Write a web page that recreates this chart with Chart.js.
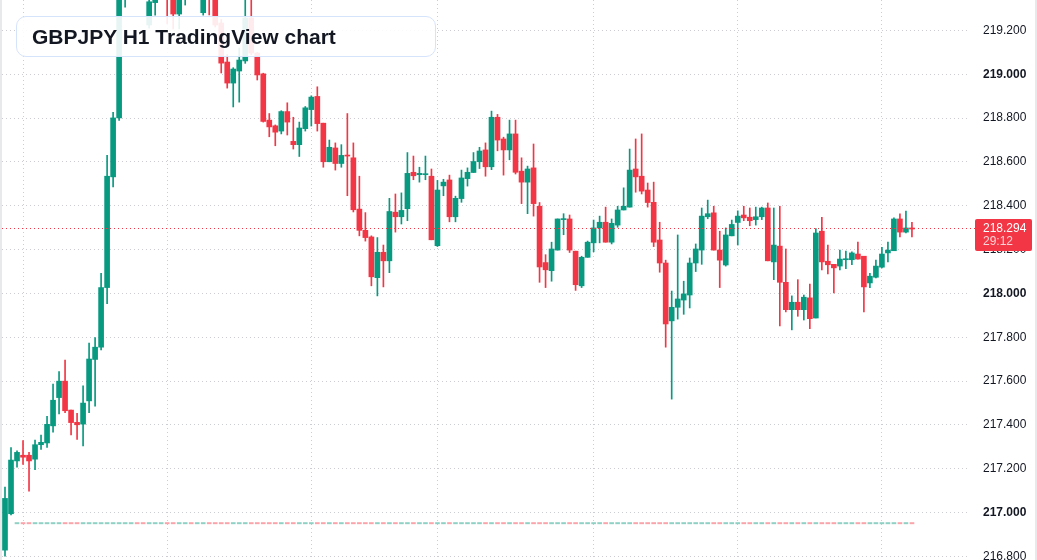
<!DOCTYPE html>
<html>
<head>
<meta charset="utf-8">
<title>GBPJPY H1 TradingView chart</title>
<script src="https://cdn.jsdelivr.net/npm/chart.js@4.4.1/dist/chart.umd.min.js"></script>
<style>
  html, body { margin: 0; padding: 0; background: #fff; }
  .wrap {
    position: relative; width: 1037px; height: 560px; box-sizing: border-box;
    border-left: 2px solid #e8e9eb; border-right: 2px solid #e8e9eb; overflow: hidden;
  }
  .wrap canvas { display: block; }
  .title {
    position: absolute; left: 14px; top: 16px; width: 420px; height: 41px; box-sizing: border-box;
    border: 1.5px solid #d5e3fb; border-radius: 10px; background: rgba(255, 255, 255, 0.9);
    font: bold 21px "Liberation Sans", Arial, sans-serif; color: #131722;
    padding-left: 15px; line-height: 39px; white-space: nowrap;
  }
</style>
</head>
<body>
<div class="wrap">
  <canvas id="chart" width="1033" height="560"></canvas>
  <div class="title">GBPJPY H1 TradingView chart</div>
</div>
<script>
/* ── GBPJPY H1 candles (oldest → newest) ── */
const opens = [
  216.829, 216.995, 217.236, 217.262, 217.262, 217.244, 217.310, 217.318, 217.396, 217.525,
  217.600, 217.468, 217.412, 217.404, 217.510, 217.699, 217.755, 218.027, 218.532, 218.801,
  219.380, 219.460, 219.550, 219.500, 219.225, 219.327, 219.390, 219.440, 219.360, 219.275,
  219.370, 219.430, 219.390, 219.281, 219.420, 219.370, 219.234, 219.056, 218.960, 219.015,
  219.061, 219.257, 219.097, 219.002, 218.791, 218.765, 218.741, 218.830, 218.694, 218.679,
  218.752, 218.839, 218.899, 218.777, 218.601, 218.664, 218.593, 218.630, 218.619, 218.385,
  218.288, 218.258, 218.072, 218.188, 218.149, 218.371, 218.350, 218.387, 218.553, 218.542,
  218.542, 218.535, 218.218, 218.491, 218.518, 218.350, 218.433, 218.524, 218.552, 218.601,
  218.655, 218.578, 218.804, 218.705, 218.655, 218.728, 218.558, 218.508, 218.573, 218.398,
  218.141, 218.104, 218.198, 218.337, 218.340, 218.193, 218.035, 218.165, 218.231, 218.299,
  218.325, 218.234, 218.312, 218.381, 218.394, 218.568, 218.535, 218.472, 218.416, 218.244,
  218.139, 217.875, 217.937, 217.970, 217.993, 218.139, 218.198, 218.350, 218.368, 218.198,
  218.130, 218.263, 218.324, 218.358, 218.348, 218.337, 218.350, 218.390, 218.144, 218.216,
  218.051, 217.926, 217.960, 217.926, 217.980, 217.888, 218.284, 218.147, 218.133, 218.125,
  218.154, 218.154, 218.180, 218.170, 218.048, 218.074, 218.120, 218.185, 218.195, 218.340,
  218.280, 218.299
];
const highs = [
  217.117, 217.297, 217.282, 217.329, 217.275, 217.331, 217.354, 217.440, 217.587, 217.644,
  217.696, 217.468, 217.453, 217.579, 217.774, 217.799, 218.092, 218.630, 218.826, 219.460,
  219.520, 219.600, 219.630, 219.560, 219.370, 219.430, 219.480, 219.470, 219.400, 219.410,
  219.460, 219.460, 219.450, 219.420, 219.450, 219.400, 219.250, 219.090, 219.030, 219.120,
  219.360, 219.360, 219.100, 219.005, 218.821, 218.769, 218.834, 218.870, 218.804, 218.782,
  218.853, 218.902, 218.943, 218.777, 218.700, 218.687, 218.679, 218.821, 218.687, 218.535,
  218.369, 218.263, 218.255, 218.221, 218.434, 218.454, 218.459, 218.643, 218.627, 218.576,
  218.627, 218.568, 218.516, 218.521, 218.540, 218.444, 218.563, 218.573, 218.643, 218.667,
  218.687, 218.832, 218.817, 218.713, 218.791, 218.791, 218.619, 218.581, 218.682, 218.415,
  218.177, 218.234, 218.340, 218.364, 218.358, 218.193, 218.170, 218.239, 218.335, 218.353,
  218.394, 218.340, 218.398, 218.482, 218.659, 218.705, 218.728, 218.504, 218.508, 218.325,
  218.152, 218.011, 218.267, 218.056, 218.162, 218.226, 218.390, 218.426, 218.398, 218.284,
  218.299, 218.335, 218.377, 218.398, 218.390, 218.394, 218.394, 218.413, 218.390, 218.398,
  218.203, 217.989, 218.063, 217.993, 218.043, 218.296, 218.348, 218.221, 218.133, 218.198,
  218.193, 218.190, 218.234, 218.170, 218.092, 218.152, 218.211, 218.234, 218.345, 218.363,
  218.376, 218.325
];
const lows = [
  216.801, 216.990, 217.207, 217.220, 217.098, 217.196, 217.289, 217.298, 217.367, 217.451,
  217.456, 217.355, 217.334, 217.305, 217.456, 217.486, 217.742, 217.954, 218.486, 218.790,
  219.306, 219.420, 219.460, 219.400, 219.210, 219.270, 219.350, 219.230, 219.207, 219.207,
  219.316, 219.360, 219.360, 219.270, 219.271, 219.216, 219.006, 218.937, 218.851, 218.873,
  219.050, 219.090, 218.974, 218.782, 218.715, 218.674, 218.728, 218.723, 218.659, 218.625,
  218.741, 218.764, 218.741, 218.576, 218.601, 218.563, 218.576, 218.446, 218.372, 218.263,
  218.239, 218.035, 217.989, 218.030, 218.095, 218.280, 218.317, 218.332, 218.519, 218.508,
  218.519, 218.245, 218.214, 218.446, 218.327, 218.327, 218.416, 218.490, 218.552, 218.570,
  218.535, 218.565, 218.651, 218.540, 218.610, 218.545, 218.410, 218.364, 218.353, 218.051,
  218.027, 218.056, 218.198, 218.268, 218.187, 218.014, 218.027, 218.165, 218.190, 218.231,
  218.234, 218.226, 218.302, 218.381, 218.394, 218.462, 218.454, 218.394, 218.214, 218.097,
  217.755, 217.518, 217.883, 217.905, 217.934, 218.100, 218.133, 218.341, 218.198, 218.027,
  218.125, 218.263, 218.221, 218.332, 218.309, 218.312, 218.337, 218.149, 218.063, 217.852,
  217.916, 217.834, 217.896, 217.879, 217.839, 217.888, 218.108, 218.089, 218.002, 218.108,
  218.113, 218.131, 218.157, 217.916, 218.027, 218.071, 218.117, 218.144, 218.195, 218.258,
  218.276, 218.258
];
const closes = [
  217.065, 217.240, 217.275, 217.253, 217.236, 217.310, 217.321, 217.403, 217.513, 217.600,
  217.465, 217.411, 217.401, 217.500, 217.701, 217.755, 218.027, 218.535, 218.801, 219.400,
  219.460, 219.550, 219.500, 219.440, 219.331, 219.390, 219.440, 219.360, 219.275, 219.370,
  219.430, 219.390, 219.410, 219.390, 219.370, 219.225, 219.051, 218.960, 219.024, 219.065,
  219.257, 219.097, 218.997, 218.785, 218.760, 218.736, 218.830, 218.782, 218.679, 218.755,
  218.847, 218.896, 218.775, 218.601, 218.667, 218.593, 218.630, 218.627, 218.382, 218.288,
  218.255, 218.076, 218.188, 218.149, 218.374, 218.350, 218.379, 218.548, 218.537, 218.548,
  218.545, 218.245, 218.472, 218.508, 218.350, 218.434, 218.527, 218.553, 218.602, 218.650,
  218.578, 218.804, 218.700, 218.655, 218.728, 218.553, 218.508, 218.568, 218.410, 218.121,
  218.108, 218.203, 218.340, 218.340, 218.198, 218.040, 218.165, 218.234, 218.299, 218.325,
  218.234, 218.320, 218.381, 218.398, 218.563, 218.532, 218.467, 218.415, 218.234, 218.139,
  217.861, 217.937, 217.975, 217.998, 218.139, 218.203, 218.353, 218.364, 218.198, 218.152,
  218.267, 218.315, 218.353, 218.345, 218.332, 218.350, 218.390, 218.149, 218.221, 218.051,
  217.926, 217.960, 217.926, 217.983, 217.885, 218.276, 218.144, 218.131, 218.117, 218.157,
  218.157, 218.185, 218.157, 218.030, 218.079, 218.125, 218.180, 218.198, 218.340, 218.280,
  218.299, 218.294
];

const priceTicks = [216.8, 217.0, 217.2, 217.4, 217.6, 217.8, 218.0, 218.2, 218.4, 218.6, 218.8, 219.0, 219.2];
const gridCandles = [3, 27, 51, 72, 98, 122, 146];   // session starts, get a vertical line
const emptyBars = 9;                                 // right margin, like TradingView
const lastPrice = 218.294;
const countdown = "29:12";
const markerLevel = [216.949, 216.955];               // tiny per-candle dashes near the bottom

const UP = "#089981", DOWN = "#F23645";
const GRID = "rgba(185,188,195,0.75)";
const FONT = '"Liberation Sans", Arial, sans-serif';

const hours = Array.from({ length: opens.length + emptyBars }, (_, i) => String(i));
const isUp = i => closes[i] >= opens[i];
const candleColor = opens.map((_, i) => isUp(i) ? UP : DOWN);
const markerColor = opens.map((_, i) => isUp(i) ? "rgba(8,153,129,0.45)" : "rgba(242,54,69,0.45)");

const priceTag = {
  id: "priceTag",
  afterDatasetsDraw(chart) {
    const { ctx, chartArea, scales: { y } } = chart;
    const py = Math.round(y.getPixelForValue(lastPrice)) - 0.5;
    ctx.save();
    ctx.globalAlpha = 1;
    ctx.strokeStyle = "rgb(242,54,69)";
    ctx.lineWidth = 1;
    ctx.setLineDash([1, 3]);
    ctx.beginPath();
    ctx.moveTo(chartArea.left, py);
    ctx.lineTo(chartArea.right + 6, py);
    ctx.stroke();
    ctx.restore();
  },
  afterDraw(chart) {
    const { ctx, chartArea, scales: { y } } = chart;
    const py = Math.round(y.getPixelForValue(lastPrice)) - 1;
    const x = chartArea.right + 6;
    ctx.save();
    ctx.fillStyle = DOWN;
    ctx.beginPath();
    ctx.roundRect(x, py - 9, 57, 32, 2);
    ctx.fill();
    ctx.textAlign = "left";
    ctx.textBaseline = "middle";
    ctx.font = "12px " + FONT;
    ctx.fillStyle = "#ffffff";
    ctx.fillText(lastPrice.toFixed(3), x + 8, py + 1);
    ctx.fillStyle = "rgba(255,255,255,0.78)";
    ctx.fillText(countdown, x + 8, py + 14);
    ctx.restore();
  }
};

new Chart(document.getElementById("chart").getContext("2d"), {
  type: "bar",
  data: {
    labels: hours,
    datasets: [
      { label: "body", data: opens.map((o, i) => [o, closes[i]]),
        backgroundColor: candleColor, barThickness: 5, minBarLength: 1, grouped: false, borderWidth: 0 },
      { label: "wick", data: lows.map((l, i) => [l, highs[i]]),
        backgroundColor: candleColor, barThickness: 1, minBarLength: 1, grouped: false, borderWidth: 0 },
      { label: "marker", data: opens.map((_, i) => i < 2 ? null : markerLevel),
        backgroundColor: markerColor, barThickness: 4, grouped: false, borderWidth: 0 }
    ]
  },
  options: {
    responsive: false,
    animation: false,
    events: [],
    layout: { padding: 0 },
    plugins: { legend: { display: false }, tooltip: { enabled: false } },
    scales: {
      x: {
        type: "category", offset: true,
        ticks: { display: false },
        border: { display: false, dash: [1, 3] },
        grid: { offset: false, drawTicks: false, lineWidth: 1,
          color: ctx => gridCandles.includes(ctx.index) ? GRID : "rgba(0,0,0,0)" }
      },
      y: {
        position: "right",
        min: 216.784, max: 219.339,
        afterBuildTicks: scale => { scale.ticks = priceTicks.map(v => ({ value: v })); },
        afterFit: scale => { scale.width = 66; scale.paddingTop = 0; scale.paddingBottom = 0; },
        border: { display: false, dash: [1, 3] },
        grid: { drawTicks: false, color: GRID, lineWidth: 1 },
        ticks: {
          padding: 14, color: "#131722",
          font: ctx => {
            const v = ctx.tick ? ctx.tick.value : 0.5;
            return { family: FONT, size: 12, weight: Math.abs(v - Math.round(v)) < 1e-6 ? "bold" : "normal" };
          },
          callback: v => Number(v).toFixed(3)
        }
      }
    }
  },
  plugins: [priceTag]
});
</script>
</body>
</html>
